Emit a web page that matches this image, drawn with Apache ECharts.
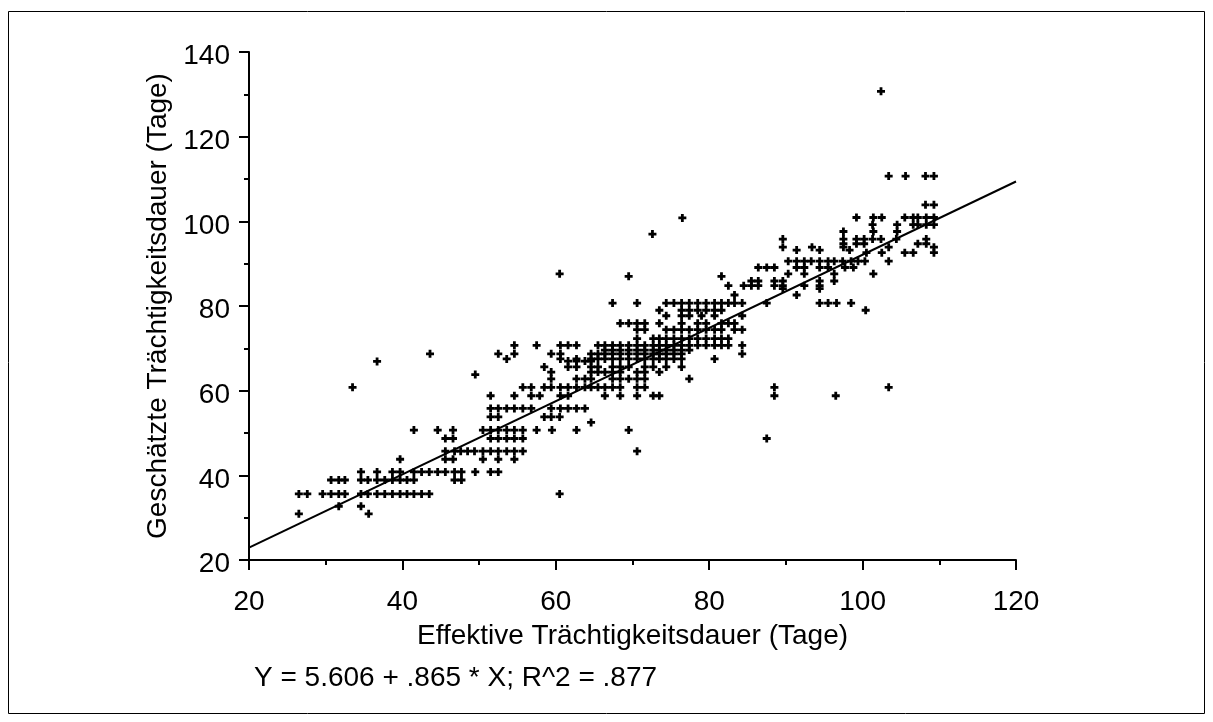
<!DOCTYPE html>
<html><head><meta charset="utf-8">
<script src="https://cdn.jsdelivr.net/npm/echarts@6/dist/echarts.min.js"></script>
<style>html,body{margin:0;padding:0;background:#fff}#c{width:1213px;height:722px}</style>
</head><body><div id="c"></div>
<script>
const xTickLabels = [20, 40, 60, 80, 100, 120];
const yTickLabels = [20, 40, 60, 80, 100, 120, 140];
const xTitle = 'Effektive Trächtigkeitsdauer (Tage)';
const yTitle = 'Geschätzte Trächtigkeitsdauer (Tage)';
const intercept = 5.606;
const slope = 0.865;
const equationText = 'Y = 5.606 + .865 * X; R^2 = .877';

// rows of points: [geschätzte Dauer (y), [effektive Dauer (x) ...]]
const pointRows = [
  [30.9, [26.5, 35.6]],
  [32.7, [31.7, 34.6]],
  [35.6, [26.5, 27.6, 29.6, 30.7, 31.7, 32.5, 34.6, 35.5, 36.7, 37.7, 38.7, 39.7, 40.6, 41.5, 42.5, 43.5, 60.5]],
  [38.9, [30.7, 31.7, 32.5, 34.6, 35.5, 36.7, 37.7, 38.7, 39.7, 40.6, 41.5, 46.8, 47.7]],
  [40.8, [34.6, 36.7, 38.7, 39.7, 41.5, 42.5, 43.5, 44.6, 45.6, 46.8, 47.7, 49.5, 51.5, 52.5]],
  [43.8, [39.7, 45.6, 46.6, 50.5, 52.5, 54.6]],
  [45.7, [45.6, 46.8, 47.6, 48.5, 49.4, 50.5, 51.5, 52.5, 53.6, 54.6, 55.7, 70.6]],
  [48.7, [45.6, 46.6, 51.5, 52.5, 53.6, 54.6, 55.7, 87.5]],
  [50.7, [41.5, 44.6, 46.6, 50.5, 51.5, 52.5, 53.6, 54.6, 55.7, 57.5, 59.5, 62.7, 69.5]],
  [52.5, [64.6]],
  [53.8, [51.5, 52.5, 58.5, 59.4, 60.5]],
  [55.8, [51.5, 52.5, 53.6, 54.6, 55.7, 56.8, 59.4, 60.6, 61.6, 62.7, 63.8]],
  [58.8, [51.5, 54.6, 56.8, 57.9, 60.6, 61.6, 66.4, 68.4, 70.6, 72.7, 73.5, 88.5, 96.5]],
  [60.8, [33.5, 55.7, 56.8, 58.5, 59.4, 60.6, 61.6, 62.7, 63.8, 64.6, 65.5, 66.4, 67.4, 68.4, 70.6, 71.6, 88.5, 103.4]],
  [62.8, [59.4, 62.7, 63.8, 64.6, 67.4, 68.4, 69.5, 70.6, 71.6, 77.4]],
  [63.8, [49.5]],
  [64.4, [59.4, 64.6, 65.5, 66.4, 67.4, 68.4, 70.6, 71.6, 73.5]],
  [65.6, [58.5, 61.6, 62.7, 64.6, 65.5, 67.4, 68.4, 69.5, 71.6, 72.7, 74.4, 76.4]],
  [66.9, [36.7]],
  [67.0, [61.6, 62.7, 63.8, 64.6]],
  [67.5, [53.6, 60.6, 62.7, 64.6, 65.5, 66.4, 67.4, 68.4, 69.5, 70.6, 71.6, 72.7, 73.5, 74.4, 75.4, 76.4, 80.7]],
  [68.7, [43.6, 52.5, 54.6, 59.4, 60.6, 64.6, 65.5, 66.4, 67.4, 68.4, 69.5, 70.6, 71.6, 72.7, 73.5, 74.4, 75.4, 76.4, 84.3]],
  [69.6, [66.4, 67.4, 68.4, 69.5, 70.6, 71.6, 72.7, 73.5, 74.4, 75.4, 76.4, 77.4]],
  [70.7, [54.6, 57.5, 60.6, 61.6, 62.7, 65.5, 66.4, 67.4, 68.4, 69.5, 70.6, 71.6, 72.7, 73.5, 74.4, 75.4, 76.4, 77.4, 78.5, 79.6, 80.7, 81.6, 82.5, 84.3]],
  [72.3, [70.6, 72.7, 73.5, 74.4, 75.4, 76.4, 77.4, 78.5, 79.6, 80.7, 81.6, 82.5]],
  [74.4, [70.6, 71.6, 74.4, 75.4, 76.4, 77.4, 78.5, 79.6, 80.7, 81.6, 83.3, 84.3]],
  [75.9, [68.4, 69.5, 70.6, 71.6, 73.5, 76.4, 78.5, 79.6, 81.6, 82.5, 83.3]],
  [77.7, [74.4, 76.4, 77.4, 79.0, 80.7, 84.3]],
  [79.0, [73.5, 76.4, 77.4, 78.5, 79.6, 80.7, 81.6, 100.4]],
  [80.7, [67.4, 70.6, 74.4, 75.4, 76.4, 77.4, 78.5, 79.6, 80.7, 81.6, 82.5, 83.3, 84.3, 87.5, 94.4, 95.5, 96.6, 98.5]],
  [82.6, [83.3, 91.4]],
  [84.1, [89.6, 94.4]],
  [84.8, [82.5, 84.5, 85.5, 86.4, 88.5, 89.6, 92.4, 94.4]],
  [85.9, [85.5, 86.4, 88.5, 89.6, 94.4, 96.3]],
  [87.0, [69.5, 81.6]],
  [87.6, [60.5, 90.3, 92.4, 96.3, 101.4]],
  [89.1, [86.4, 87.5, 88.5, 91.4, 92.4, 94.4, 95.5, 97.7, 98.8]],
  [90.6, [90.3, 91.4, 92.4, 93.3, 94.4, 95.5, 96.3, 97.4, 98.5, 99.4, 100.3, 103.4]],
  [92.6, [100.5, 102.5, 105.5, 106.6, 109.3]],
  [93.2, [91.4, 94.4, 98.3]],
  [93.9, [89.6, 93.4, 97.5, 103.4, 109.3]],
  [94.7, [97.5, 99.2, 100.2, 107.2, 108.3]],
  [95.8, [89.6, 97.5, 99.2, 100.2, 101.3, 102.4, 104.4, 108.3]],
  [97.0, [72.6]],
  [97.6, [97.5, 101.4, 104.5]],
  [99.2, [101.3, 104.5, 106.6, 107.2, 108.3, 109.3]],
  [100.8, [76.5]],
  [100.9, [99.2, 101.4, 102.5, 105.5, 106.6, 107.2, 108.3, 109.3]],
  [103.9, [108.2, 109.3]],
  [110.7, [103.4, 105.6, 108.2, 109.3]],
  [130.7, [102.4]]
];

const scatterData = [];
pointRows.forEach(function (row) {
  row[1].forEach(function (x) { scatterData.push([x, row[0]]); });
});
const xMin = xTickLabels[0], xMax = xTickLabels[xTickLabels.length - 1];
const lineData = [[xMin, intercept + slope * xMin], [xMax, intercept + slope * xMax]];

const font = '"Liberation Sans", Arial, sans-serif';
const fs = 28;
const plus = 'path://M2.6,0h2.8v2.6h2.6v2.8h-2.6v2.6h-2.8v-2.6h-2.6v-2.8h2.6z';

const chart = echarts.init(document.getElementById('c'), null, {renderer: 'canvas'});
chart.setOption({
  animation: false,
  backgroundColor: '#fff',
  grid: {left: 249, right: 197, top: 52, bottom: 162},
  xAxis: {
    type: 'value', min: 20, max: 120, interval: 20,
    axisLine: {onZero: false, lineStyle: {color: '#000', width: 2}},
    axisTick: {length: 10, lineStyle: {color: '#000', width: 2}},
    minorTick: {show: true, splitNumber: 2, length: 5, lineStyle: {color: '#000', width: 2}},
    splitLine: {show: false},
    axisLabel: {color: '#000', fontSize: fs, fontFamily: font, margin: 28},
    name: xTitle, nameLocation: 'middle', nameGap: 62,
    nameTextStyle: {color: '#000', fontSize: fs, fontFamily: font}
  },
  yAxis: {
    type: 'value', min: 20, max: 140, interval: 20,
    axisLine: {onZero: false, lineStyle: {color: '#000', width: 2}},
    axisTick: {length: 10, lineStyle: {color: '#000', width: 2}},
    minorTick: {show: true, splitNumber: 2, length: 5, lineStyle: {color: '#000', width: 2}},
    splitLine: {show: false},
    axisLabel: {color: '#000', fontSize: fs, fontFamily: font, margin: 19,
                verticalAlign: 'top', lineHeight: 9},
    name: yTitle, nameLocation: 'middle', nameGap: 77,
    nameTextStyle: {color: '#000', fontSize: fs, fontFamily: font}
  },
  series: [
    {
      type: 'scatter', data: scatterData, symbol: plus, symbolSize: 8,
      itemStyle: {color: '#000', opacity: 1}, silent: true
    },
    {
      type: 'line', data: lineData, symbol: 'none', silent: true,
      lineStyle: {color: '#000', width: 2}, z: 3
    }
  ],
  graphic: [
    {type: 'rect', shape: {x: 8.5, y: 11.5, width: 1196, height: 702},
     style: {fill: null, stroke: '#000', lineWidth: 1}, silent: true},
    {type: 'text', left: 254, top: 664,
     style: {text: equationText, fill: '#000', fontSize: fs, fontFamily: font}, silent: true}
  ]
});
</script>
</body></html>
